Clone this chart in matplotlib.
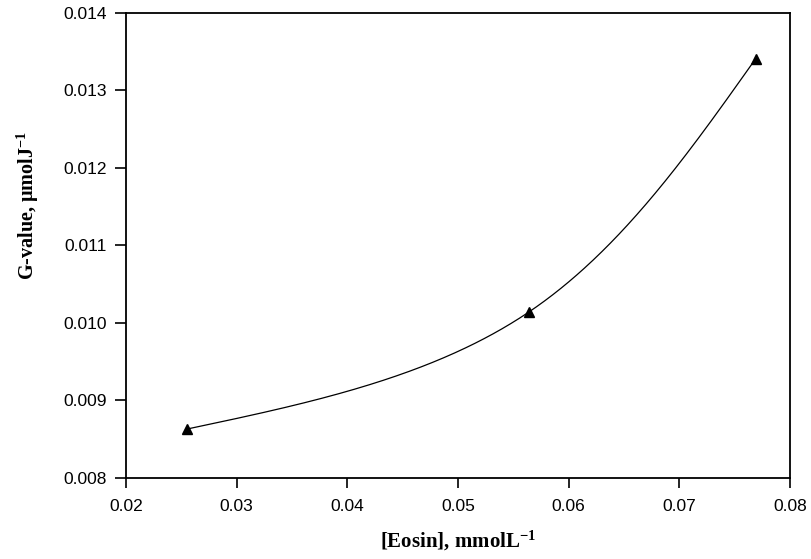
import numpy as np
import matplotlib
matplotlib.use("Agg")
import matplotlib.pyplot as plt

eosin = [0.0255, 0.0564, 0.0769]
g_value = [0.00863, 0.01014, 0.01341]
x_ticks = [0.02, 0.03, 0.04, 0.05, 0.06, 0.07, 0.08]
y_ticks = [0.008, 0.009, 0.010, 0.011, 0.012, 0.013, 0.014]

plt.rcParams['mathtext.fontset'] = 'custom'
plt.rcParams['mathtext.rm'] = 'Liberation Serif:bold'
plt.rcParams['mathtext.it'] = 'Liberation Serif:bold'
plt.rcParams['mathtext.bf'] = 'Liberation Serif:bold'


def nat_eval(t, y, ts):
    t = np.asarray(t, float); y = np.asarray(y, float)
    n = len(t); h = np.diff(t)
    A = np.zeros((n, n)); b = np.zeros(n)
    A[0, 0] = 1; A[-1, -1] = 1
    for i in range(1, n - 1):
        A[i, i - 1] = h[i - 1]; A[i, i] = 2 * (h[i - 1] + h[i]); A[i, i + 1] = h[i]
        b[i] = 6 * ((y[i + 1] - y[i]) / h[i] - (y[i] - y[i - 1]) / h[i - 1])
    M = np.linalg.solve(A, b)
    out = np.empty(len(ts))
    for k, tv in enumerate(ts):
        i = min(max(np.searchsorted(t, tv) - 1, 0), n - 2)
        t1 = t[i + 1] - tv; t0 = tv - t[i]
        out[k] = (M[i] * t1**3 + M[i + 1] * t0**3) / (6 * h[i]) \
            + (y[i] / h[i] - M[i] * h[i] / 6) * t1 \
            + (y[i + 1] / h[i] - M[i + 1] * h[i] / 6) * t0
    return out


fig = plt.figure(figsize=(8.12, 5.59), dpi=100)
ax = fig.add_axes([0.155, 0.145, 0.818, 0.832])
ax.set_xlim(0.02, 0.08)
ax.set_ylim(0.008, 0.014)

# parametric (chord-length) spline through the points, computed in display space
pts = ax.transData.transform(np.column_stack([eosin, g_value]))
d = np.hypot(np.diff(pts[:, 0]), np.diff(pts[:, 1]))
t = np.concatenate([[0], np.cumsum(d)])
ts = np.linspace(0, t[-1], 400)
curve = np.column_stack([nat_eval(t, pts[:, 0], ts), nat_eval(t, pts[:, 1], ts)])
curve = ax.transData.inverted().transform(curve)
ax.plot(curve[:, 0], curve[:, 1], color='black', lw=0.9)
ax.plot(eosin, g_value, linestyle='none', marker='^', color='black', markersize=6.5)

ax.set_xticks(x_ticks)
ax.set_yticks(y_ticks)
ax.set_xticklabels([f"{v:.2f}" for v in x_ticks], family='Liberation Sans', fontsize=12.5)
ax.set_yticklabels([f"{v:.3f}" for v in y_ticks], family='Liberation Sans', fontsize=12.5)
ax.tick_params(axis='x', direction='out', length=7, width=1.2, pad=8, colors='black')
ax.tick_params(axis='y', direction='out', length=8, width=1.2, pad=6, colors='black')
for s in ax.spines.values():
    s.set_linewidth(1.3)

fig.text(458 / 812, 1 - 541 / 559, r"[Eosin], mmolL$^{-1}$", family='Liberation Serif',
         fontweight='bold', fontsize=15, ha='center', va='center')
fig.text(28 / 812, 1 - 206 / 559, "G-value, \u03bcmolJ$^{-1}$", family='Liberation Serif',
         fontweight='bold', fontsize=14.5, ha='center', va='center', rotation=90)

fig.savefig("out.png", dpi=100)
